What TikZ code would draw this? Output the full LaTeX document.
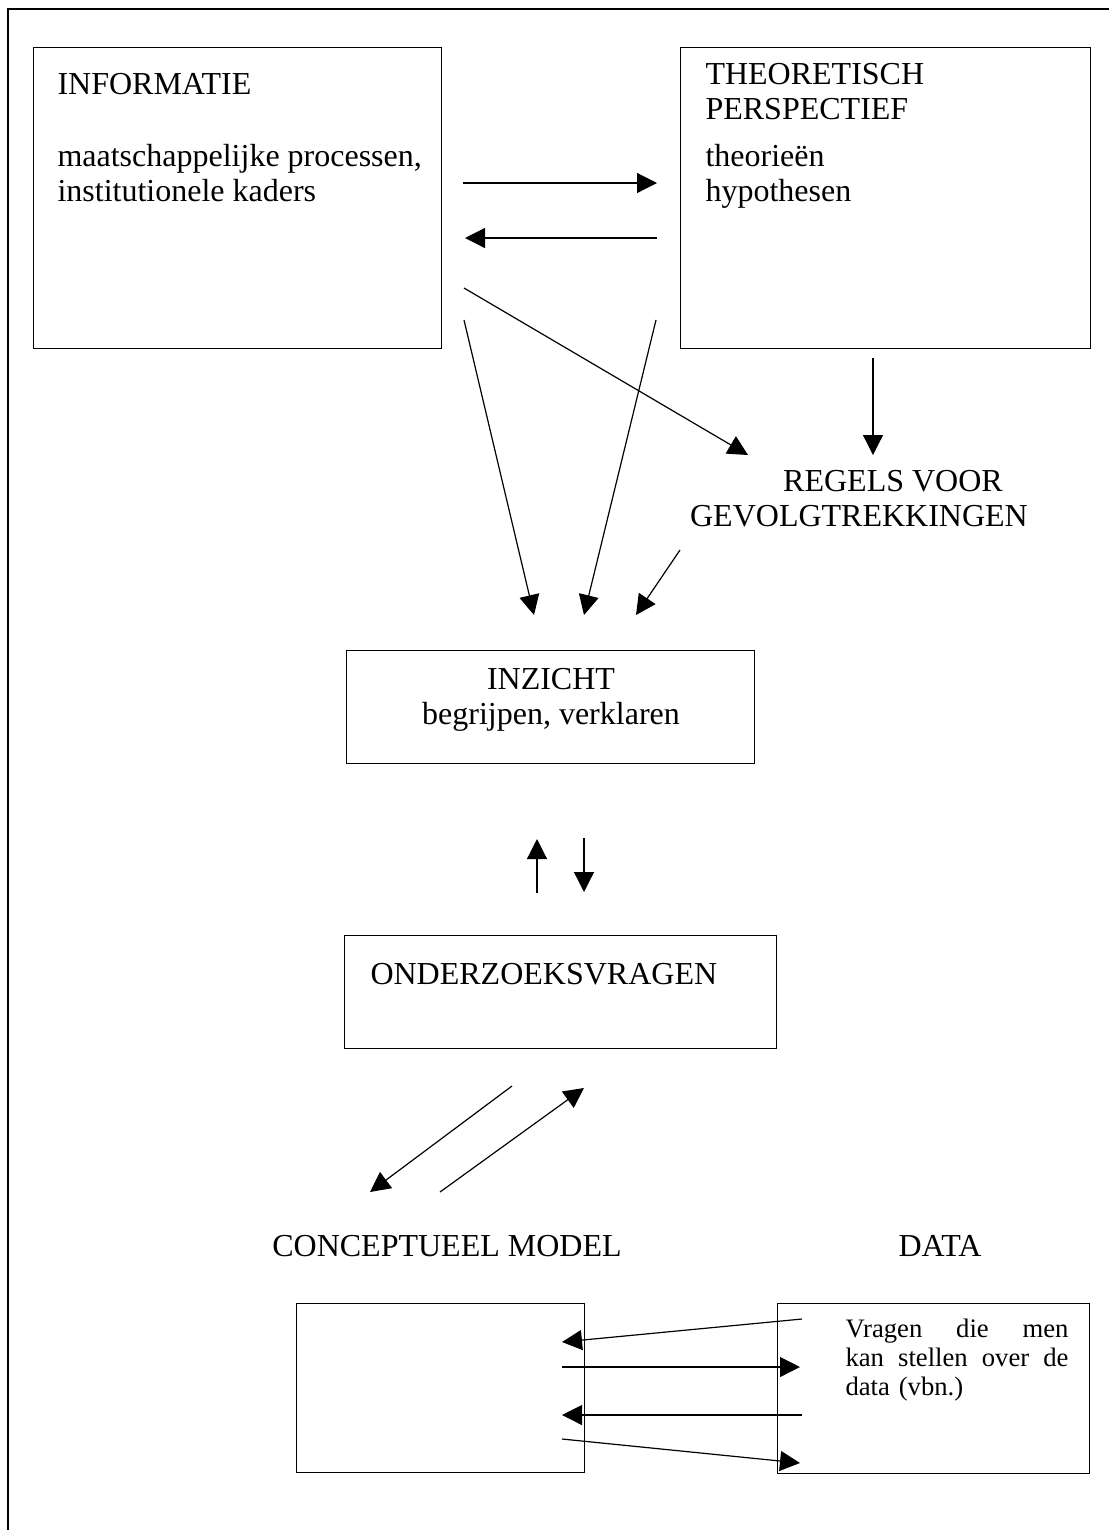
\documentclass[tikz,border=0pt]{standalone}
\usepackage{fontspec}
\setmainfont{Liberation Serif}
\usetikzlibrary{arrows.meta}

\def\px{0.375pt}
\tikzset{
  box/.style={draw, line width=0.55pt, rectangle, inner sep=0pt, anchor=north west},
  arr/.style={-{Triangle[length=7.5pt,width=7.5pt]}, line width=0.45pt},
  txt/.style={inner sep=0pt, font=\fontsize{12}{13.1}\selectfont},
  small/.style={inner sep=0pt, font=\fontsize{10}{11}\selectfont},
}

\begin{document}
\begin{tikzpicture}[x=\px, y=-\px]
            \useasboundingbox (0,0) rectangle (1109,1530);
            \draw[line width=0.55pt] (8,1540) -- (8,9) -- (1120,9); % frame

            % multi-line nodes sit on the baseline of their last line
            \node[box, minimum width=408*\px, minimum height=301*\px] (info) at (33,47) {};
            \node[txt, anchor=base west] (infotitle) at (57,94) {INFORMATIE};
            \node[txt, anchor=base west, align=left] (infotext) at (57,201) {maatschappelijke processen,\\institutionele kaders};

            \node[box, minimum width=410*\px, minimum height=301*\px] (theo) at (680,47) {};
            \node[txt, anchor=base west, align=left] (theotitle) at (705,119) {THEORETISCH\\PERSPECTIEF};
            \node[txt, anchor=base west, align=left] (theotext) at (705,201) {theorieën\\hypothesen};

            \node[txt, anchor=base] (regels) at (893,491) {REGELS VOOR};
            \node[txt, anchor=base] (gevolg) at (859,526) {GEVOLGTREKKINGEN};

            \node[box, minimum width=408*\px, minimum height=113*\px] (inzicht) at (346,650) {};
            \node[txt, anchor=base, align=center] (inzichttext) at (551,724) {INZICHT\\begrijpen, verklaren};

            \node[box, minimum width=432*\px, minimum height=113*\px] (onder) at (344,935) {};
            \node[txt, anchor=base west] (ondertext) at (370,984) {ONDERZOEKSVRAGEN};

            \node[txt, anchor=base] (modeltitle) at (447,1256) {CONCEPTUEEL MODEL};
            \node[txt, anchor=base] (datatitle) at (940,1256) {DATA};

            \node[box, minimum width=288*\px, minimum height=169*\px] (model) at (296,1303) {};
            \node[box, minimum width=312*\px, minimum height=170*\px] (data) at (777,1303) {};
            \node[small, anchor=base west, align=left, text width=223*\px] (datatext) at (845,1337)
              {Vragen\hfill die\hfill men\\kan\hfill stellen\hfill over\hfill de\\data (vbn.)};

            % arrow ends
            \coordinate (a1) at (463,183);  \coordinate (b1) at (657,183);
            \coordinate (a2) at (657,238);  \coordinate (b2) at (465,238);
            \coordinate (a3) at (464,288);  \coordinate (b3) at (748,455);
            \coordinate (a4) at (873,358);  \coordinate (b4) at (873,455);
            \coordinate (a5) at (464,320);  \coordinate (b5) at (534,615);
            \coordinate (a6) at (656,320);  \coordinate (b6) at (584,615);
            \coordinate (a7) at (680,550);  \coordinate (b7) at (636,615);
            \coordinate (a8) at (537,893);  \coordinate (b8) at (537,839);
            \coordinate (a9) at (584,838);  \coordinate (b9) at (584,892);
            \coordinate (a10) at (512,1086); \coordinate (b10) at (370,1192);
            \coordinate (a11) at (440,1192); \coordinate (b11) at (584,1088);
            \coordinate (a12) at (802,1319); \coordinate (b12) at (562,1342);
            \coordinate (a13) at (562,1367); \coordinate (b13) at (800,1367);
            \coordinate (a14) at (802,1415); \coordinate (b14) at (562,1415);
            \coordinate (a15) at (562,1439); \coordinate (b15) at (800,1463);

            \draw[arr] (a1) -- (b1); % info-theo
            \draw[arr] (a2) -- (b2); % theo-info
            \draw[arr] (a3) -- (b3); % info-regels
            \draw[arr] (a4) -- (b4); % theo-regels
            \draw[arr] (a5) -- (b5); % info-inzicht
            \draw[arr] (a6) -- (b6); % theo-inzicht
            \draw[arr] (a7) -- (b7); % regels-inzicht
            \draw[arr] (a8) -- (b8); % onder-inzicht
            \draw[arr] (a9) -- (b9); % inzicht-onder
            \draw[arr] (a10) -- (b10); % onder-model
            \draw[arr] (a11) -- (b11); % model-onder
            \draw[arr] (a12) -- (b12); % data-model
            \draw[arr] (a13) -- (b13); % model-data
            \draw[arr] (a14) -- (b14); % data-model
            \draw[arr] (a15) -- (b15); % model-data
        \end{tikzpicture}
\end{document}
